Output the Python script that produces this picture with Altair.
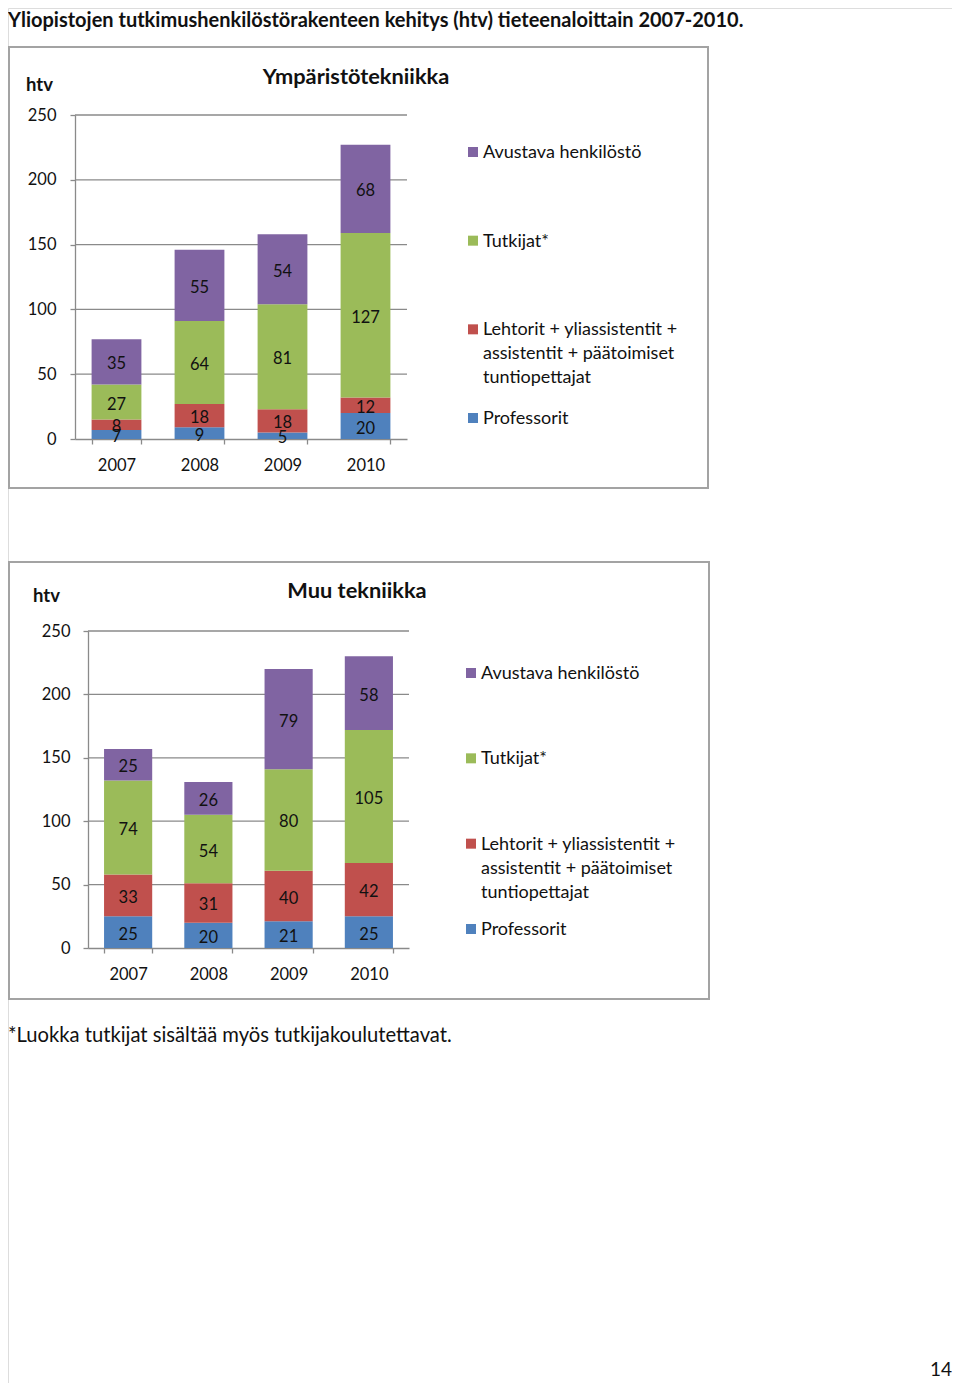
import altair as alt
import pandas as pd

# ---------------- data ----------------
years = ["2007", "2008", "2009", "2010"]
cat_keys = ["prof", "leht", "tutk", "avus"]          # stack order bottom -> top
cat_colors = ["#4F81BD", "#C0504D", "#9BBB59", "#8064A2"]
legend_order = ["avus", "tutk", "leht", "prof"]
legend_texts = [
    "Avustava henkilöstö",
    "Tutkijat*",
    "Lehtorit + yliassistentit +|assistentit + päätoimiset|tuntiopettajat",
    "Professorit",
]
y_ticks = [0, 50, 100, 150, 200, 250]

# Ympäristötekniikka
ymp_prof = [7, 9, 5, 20]
ymp_leht = [8, 18, 18, 12]
ymp_tutk = [27, 64, 81, 127]
ymp_avus = [35, 55, 54, 68]

# Muu tekniikka
muu_prof = [25, 20, 21, 25]
muu_leht = [33, 31, 40, 42]
muu_tutk = [74, 54, 80, 105]
muu_avus = [25, 26, 79, 58]

page_title = "Yliopistojen tutkimushenkilöstörakenteen kehitys (htv) tieteenaloittain 2007-2010."
footnote = "*Luokka tutkijat sisältää myös tutkijakoulutettavat."
page_number = "14"
panel_titles = ["Ympäristötekniikka", "Muu tekniikka"]
unit_label = "htv"

# ---------------- layout / style ----------------
W, H = 944, 1375
FONT = "Lato"
TXT = "#111111"
GRID = "#8a8a8a"
FRAME = "#a3a3a3"
FS = 16.5
FS_LEG = 18

color_scale = alt.Scale(domain=cat_keys, range=cat_colors)
one = pd.DataFrame({"k": [0]})


def stack_rows(series):
    rows = []
    for i, yr in enumerate(years):
        base = 0
        for key, vals in zip(cat_keys, series):
            v = vals[i]
            rows.append(dict(year=yr, cat=key, value=v, y0=base, y1=base + v, mid=base + v / 2))
            base += v
    return pd.DataFrame(rows)


def text_chart(txt, x, y, size, bold=False, align="left", baseline="middle"):
    return alt.Chart(one).mark_text(
        fontSize=size, fontWeight="bold" if bold else "normal", align=align,
        baseline=baseline, color=TXT, font=FONT,
    ).encode(x=alt.value(x), y=alt.value(y), text=alt.value(txt))


def frame_chart(x1, x2, y1, y2):
    return alt.Chart(one).mark_rect(fillOpacity=0, stroke=FRAME, strokeWidth=2).encode(
        x=alt.value(x1), x2=alt.value(x2), y=alt.value(y1), y2=alt.value(y2))


def panel(series, xr, yr, ylab_pad):
    df = stack_rows(series)
    xs = alt.Scale(domain=years, range=xr, paddingInner=0.4, paddingOuter=0.2)
    ys = alt.Scale(domain=[0, 250], range=yr, nice=False, zero=True)
    x_axis = alt.Axis(title=None, orient="bottom", tickBand="extent", offset=yr[0] - H,
                      labelPadding=13, tickSize=5, labelAngle=0, domainColor=GRID,
                      tickColor=GRID, domainWidth=1.3, tickWidth=1.3, labelFontSize=FS,
                      labelColor=TXT, labelFont=FONT, grid=False)
    y_axis = alt.Axis(title=None, orient="left", values=y_ticks, offset=-xr[0],
                      labelPadding=ylab_pad, tickSize=5, domainColor=GRID, tickColor=GRID,
                      domainWidth=1.3, tickWidth=1.3, labelFontSize=FS, labelColor=TXT,
                      labelFont=FONT, grid=False)
    grid = alt.Chart(pd.DataFrame({"t": y_ticks[1:]})).mark_rule(
        color=GRID, strokeWidth=1.3).encode(
        x=alt.value(xr[0]), x2=alt.value(xr[1]),
        y=alt.Y("t:Q", scale=ys, axis=y_axis))
    bars = alt.Chart(df).mark_bar().encode(
        x=alt.X("year:N", scale=xs, axis=x_axis),
        y=alt.Y("y0:Q", scale=ys, axis=y_axis),
        y2="y1:Q",
        color=alt.Color("cat:N", scale=color_scale, legend=None),
    )
    labels = alt.Chart(df).mark_text(fontSize=FS, color=TXT, font=FONT, baseline="middle",
                                     dy=2.5).encode(
        x=alt.X("year:N", scale=xs, axis=x_axis),
        y=alt.Y("mid:Q", scale=ys, axis=y_axis),
        text="value:Q",
    )
    return alt.layer(grid, bars, labels)


def legend(x_sq, y_first, y_last):
    ldf = pd.DataFrame({"cat": legend_order, "label": legend_texts})
    ls = alt.Scale(domain=legend_order, range=[y_first, y_last], padding=0)
    sq = alt.Chart(ldf).mark_square(size=100, opacity=1).encode(
        x=alt.value(x_sq), y=alt.Y("cat:N", scale=ls, axis=None),
        color=alt.Color("cat:N", scale=color_scale, legend=None))
    tx = alt.Chart(ldf).mark_text(
        align="left", baseline="top", dy=-8, lineBreak="|", lineHeight=24,
        fontSize=FS_LEG, color=TXT, font=FONT).encode(
        x=alt.value(x_sq + 10), y=alt.Y("cat:N", scale=ls, axis=None), text="label:N")
    return alt.layer(sq, tx)


p1 = panel([ymp_prof, ymp_leht, ymp_tutk, ymp_avus], [67, 399], [431, 107], 14)
p2 = panel([muu_prof, muu_leht, muu_tutk, muu_avus], [80, 401], [940, 623], 13)
l1 = legend(465, 144, 410)
l2 = legend(463, 665, 921)

chart = alt.layer(
    frame_chart(1, 700, 39, 480),
    frame_chart(1, 701, 554, 991),
    p1, l1, p2, l2,
    text_chart(page_title, 0, 3, 20, bold=True, baseline="top"),
    text_chart(panel_titles[0], 348, 69, 21.8, bold=True, align="center"),
    text_chart(unit_label, 18, 77, 18.5, bold=True),
    text_chart(panel_titles[1], 349, 583, 21.8, bold=True, align="center"),
    text_chart(unit_label, 25, 588, 18.5, bold=True),
    text_chart(footnote, 0, 1028, 20.2),
    text_chart(page_number, 944, 1372, 19, align="right", baseline="bottom"),
).resolve_scale(
    x="independent", y="independent", color="shared"
).resolve_axis(
    x="independent", y="independent"
).properties(
    width=W, height=H, padding=0, autosize=alt.AutoSizeParams(type="none")
).configure_view(stroke=None, fill=None).configure(font=FONT)

chart.save("out.html", embed_options={"renderer": "svg", "actions": False})
